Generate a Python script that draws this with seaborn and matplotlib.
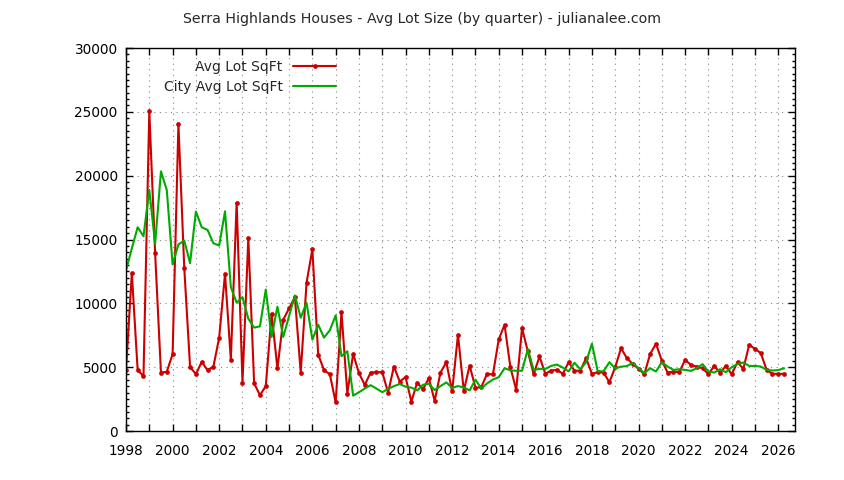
import numpy as np
import pandas as pd
import matplotlib
matplotlib.use("Agg")
import matplotlib.pyplot as plt
import seaborn as sns
from matplotlib.ticker import MultipleLocator

# quarters from 1998 Q1 to 2026 Q2
quarters = pd.period_range("1998Q1", "2026Q2", freq="Q")
years = quarters.year + (quarters.quarter - 1) / 4

# avg lot sqft in Serra Highlands
avg_lot = [
    4800, 12370, 4770, 4300, 25030, 13930, 4580, 4640,
    6020, 24040, 12790, 5030, 4450, 5420, 4770, 5030,
    7320, 12320, 5600, 17890, 3800, 15100, 3730, 2810,
    3520, 9190, 4900, 8720, 9610, 10490, 4580, 11610,
    14240, 5990, 4770, 4450, 2240, 9300, 2940, 6050,
    4530, 3610, 4580, 4610, 4610, 3010, 5050, 3880,
    4220, 2310, 3800, 3270, 4140, 2360, 4580, 5390,
    3100, 7540, 3140, 5130, 3400, 3430, 4480, 4430,
    7170, 8320, 5000, 3220, 8060, 6230, 4450, 5840,
    4480, 4740, 4790, 4480, 5390, 4740, 4710, 5710,
    4480, 4610, 4580, 3820, 5000, 6490, 5710, 5250,
    4880, 4450, 6040, 6830, 5520, 4580, 4660, 4610,
    5570, 5180, 5050, 4920, 4450, 5100, 4580, 5100,
    4450, 5390, 4870, 6750, 6440, 6100, 4790, 4480,
    4480, 4480,
]

# city-wide avg lot sqft
city_avg_lot = [
    12580, 14300, 15960, 15260, 18880, 14660, 20340, 18880,
    13050, 14610, 14920, 13150, 17190, 15960, 15750, 14710,
    14530, 17210, 11280, 10050, 10490, 8800, 8100, 8200,
    11080, 7370, 9740, 7370, 9010, 10620, 8880, 10050,
    7160, 8330, 7320, 7890, 9060, 5860, 6250, 2770,
    3040, 3330, 3590, 3330, 3040, 3300, 3520, 3680,
    3470, 3400, 3180, 3620, 3710, 3210, 3520, 3810,
    3380, 3520, 3420, 3180, 4020, 3340, 3730, 4030,
    4220, 4920, 4750, 4720, 4720, 6420, 4780, 4870,
    4870, 5100, 5210, 4970, 4670, 5350, 4840, 5390,
    6840, 4680, 4680, 5390, 4910, 5040, 5090, 5340,
    4920, 4530, 4920, 4660, 5390, 5050, 4790, 4840,
    4790, 4710, 4920, 5240, 4660, 4580, 4840, 4610,
    5000, 5240, 5370, 5100, 5100, 5050, 4790, 4740,
    4770, 4920,
]

df = pd.DataFrame({"year": years, "avg": avg_lot, "city": city_avg_lot})

sns.set_style("ticks")
plt.rcParams["font.family"] = ["DejaVu Sans"]

fig = plt.figure(figsize=(8.44, 4.8), dpi=100)
ax = fig.add_axes([0.1493, 0.102, 0.7927, 0.798])

sns.lineplot(data=df, x="year", y="avg", ax=ax, color="#cc0000", lw=1.5,
             marker="o", markersize=3.4, markeredgewidth=0,
             label="Avg Lot SqFt")
sns.lineplot(data=df, x="year", y="city", ax=ax, color="#00aa00", lw=1.5,
             label="City Avg Lot SqFt")

ax.set_xlim(1998, 2026.72)
ax.set_ylim(0, 30000)
ax.set_xticks(range(1998, 2027))
ax.set_xticklabels([str(y) if y % 2 == 0 else "" for y in range(1998, 2027)])
ax.yaxis.set_major_locator(MultipleLocator(5000))
ax.yaxis.set_minor_locator(MultipleLocator(500))
ax.tick_params(axis="both", which="both", direction="in", top=True, right=True,
               labelsize=9.8, colors="black")
ax.tick_params(which="major", length=5, width=1)
ax.tick_params(which="minor", length=2.5, width=1)
ax.tick_params(axis="x", pad=9)
ax.tick_params(axis="y", pad=6)
ax.grid(True, which="major", linestyle=(0, (1, 4)), color="#888888", lw=0.8)
ax.set_xlabel("")
ax.set_ylabel("")
for s in ax.spines.values():
    s.set_linewidth(1)
    s.set_color("black")

leg = ax.legend(loc="upper right", bbox_to_anchor=(0.314, 0.968), frameon=False,
                markerfirst=False, fontsize=10, handlelength=3.1,
                labelspacing=0.42, handletextpad=0.75, borderpad=0,
                borderaxespad=0)

fig.suptitle("Serra Highlands Houses - Avg Lot Size (by quarter) - julianalee.com",
             y=0.975, fontsize=10.2)

fig.savefig("out.png", dpi=100)
